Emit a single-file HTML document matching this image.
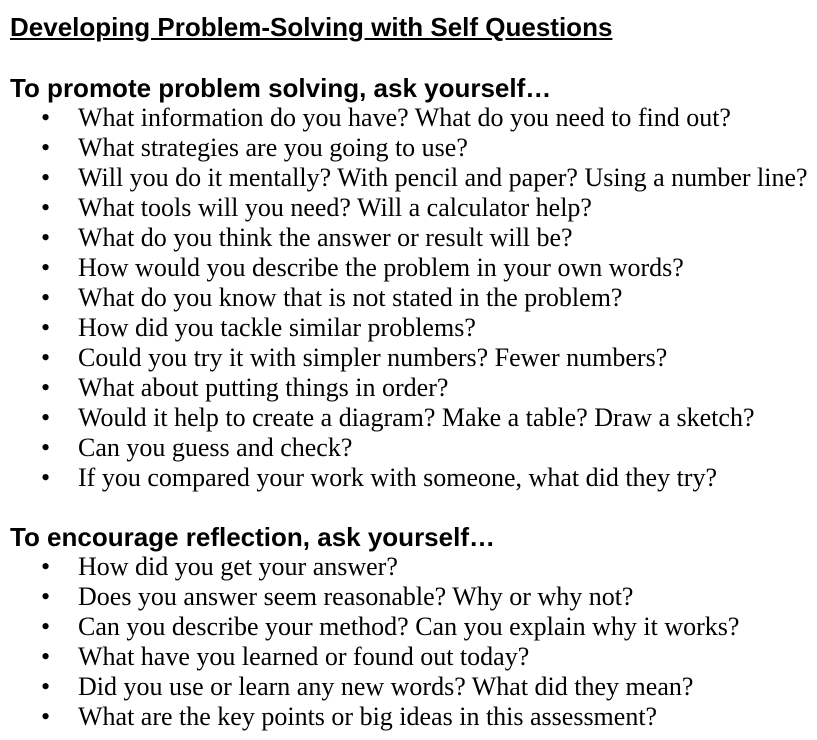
<!DOCTYPE html>
<html><head><meta charset="utf-8"><style>
body{margin:0;width:817px;height:740px;background:#fff;position:relative;overflow:hidden;color:#000}
.h{position:absolute;left:10px;font:bold 26px/30px "Liberation Sans",sans-serif;white-space:nowrap}
.t{text-decoration:underline}
.l{position:absolute;left:0;font:26px/30px "Liberation Serif",serif;white-space:nowrap}
.l b{position:absolute;left:41px;font-weight:normal}
.l span{position:absolute;left:78px}
</style></head><body>
<div class="h t" style="top:12px">Developing Problem-Solving with Self Questions</div>
<div class="h" style="top:73px">To promote problem solving, ask yourself…</div>
<div class="l" style="top:103px"><b>•</b><span>What information do you have? What do you need to find out?</span></div>
<div class="l" style="top:133px"><b>•</b><span>What strategies are you going to use?</span></div>
<div class="l" style="top:163px"><b>•</b><span>Will you do it mentally? With pencil and paper? Using a number line?</span></div>
<div class="l" style="top:193px"><b>•</b><span>What tools will you need? Will a calculator help?</span></div>
<div class="l" style="top:223px"><b>•</b><span>What do you think the answer or result will be?</span></div>
<div class="l" style="top:253px"><b>•</b><span>How would you describe the problem in your own words?</span></div>
<div class="l" style="top:283px"><b>•</b><span>What do you know that is not stated in the problem?</span></div>
<div class="l" style="top:313px"><b>•</b><span>How did you tackle similar problems?</span></div>
<div class="l" style="top:343px"><b>•</b><span>Could you try it with simpler numbers? Fewer numbers?</span></div>
<div class="l" style="top:373px"><b>•</b><span>What about putting things in order?</span></div>
<div class="l" style="top:403px"><b>•</b><span>Would it help to create a diagram? Make a table? Draw a sketch?</span></div>
<div class="l" style="top:433px"><b>•</b><span>Can you guess and check?</span></div>
<div class="l" style="top:463px"><b>•</b><span>If you compared your work with someone, what did they try?</span></div>
<div class="h" style="top:522px">To encourage reflection, ask yourself…</div>
<div class="l" style="top:552px"><b>•</b><span>How did you get your answer?</span></div>
<div class="l" style="top:582px"><b>•</b><span>Does you answer seem reasonable? Why or why not?</span></div>
<div class="l" style="top:612px"><b>•</b><span>Can you describe your method? Can you explain why it works?</span></div>
<div class="l" style="top:642px"><b>•</b><span>What have you learned or found out today?</span></div>
<div class="l" style="top:672px"><b>•</b><span>Did you use or learn any new words? What did they mean?</span></div>
<div class="l" style="top:702px"><b>•</b><span>What are the key points or big ideas in this assessment?</span></div>
</body></html>
